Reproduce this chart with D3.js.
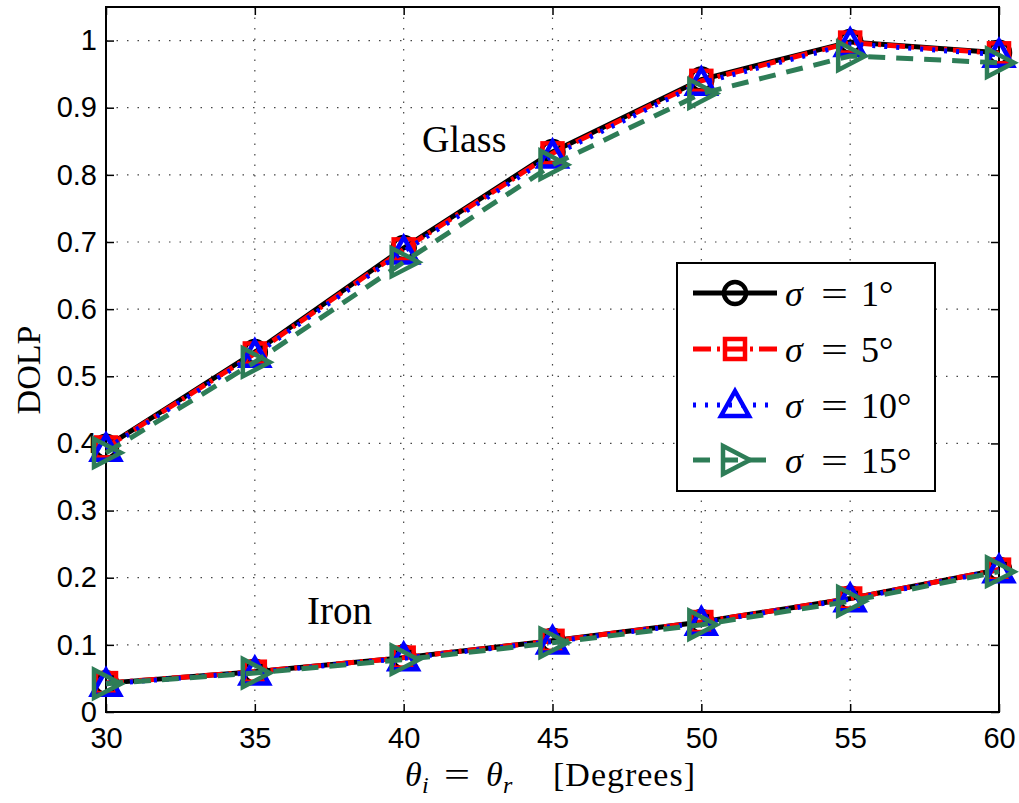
<!DOCTYPE html>
<html>
<head>
<meta charset="utf-8">
<script src="https://cdn.jsdelivr.net/npm/d3@7"></script>
<style>
  body { margin: 0; background: #fff; }
  svg { display: block; }
</style>
</head>
<body>
<div id="chart"></div>
<script>
// Data
const angles = [30, 35, 40, 45, 50, 55, 60];
const glassS1  = [0.395, 0.536, 0.691, 0.834, 0.942, 0.998, 0.982];
const glassS5  = [0.394, 0.534, 0.689, 0.832, 0.940, 0.997, 0.981];
const glassS10 = [0.392, 0.532, 0.686, 0.829, 0.937, 0.995, 0.979];
const glassS15 = [0.386, 0.521, 0.670, 0.815, 0.921, 0.977, 0.967];
const ironS1  = [0.043, 0.060, 0.081, 0.106, 0.134, 0.169, 0.212];
const ironS5  = [0.043, 0.060, 0.081, 0.106, 0.134, 0.169, 0.212];
const ironS10 = [0.042, 0.059, 0.080, 0.105, 0.133, 0.168, 0.211];
const ironS15 = [0.042, 0.058, 0.078, 0.103, 0.130, 0.165, 0.209];
const sigmaLabels = ["1", "5", "10", "15"];
const xTicks = [30, 35, 40, 45, 50, 55, 60];
const yTicks = [0, 0.1, 0.2, 0.3, 0.4, 0.5, 0.6, 0.7, 0.8, 0.9, 1];

const drawChart = () => {

  /*******************************/
  /*    Declare the constants    */
  /*******************************/
  const width = 1019;
  const height = 803;
  const margin = {top: 7, right: 20, bottom: 91, left: 106};
  const innerWidth = width - margin.left - margin.right;
  const innerHeight = height - margin.top - margin.bottom;
  const tickFont = "Liberation Sans, Arial, sans-serif";
  const serif = "Liberation Serif, Times New Roman, serif";

  const svg = d3.select("#chart")
    .append("svg")
      .attr("width", width)
      .attr("height", height);

  const inner = svg.append("g")
      .attr("transform", `translate(${margin.left}, ${margin.top})`);

  /****************************/
  /*    Declare the scales    */
  /****************************/
  const xScale = d3.scaleLinear()
    .domain([30, 60])
    .range([0, innerWidth]);
  const yScale = d3.scaleLinear()
    .domain([0, 1.05])
    .range([innerHeight, 0]);

  /**************************/
  /*      Grid and axes     */
  /**************************/
  const grid = inner.append("g")
      .attr("stroke", "#444")
      .attr("stroke-width", 1.2)
      .attr("stroke-dasharray", "1.5,9");
  grid.selectAll(".vgrid")
    .data(xTicks.slice(1, -1))
    .join("line")
      .attr("x1", d => xScale(d)).attr("x2", d => xScale(d))
      .attr("y1", 0).attr("y2", innerHeight);
  grid.selectAll(".hgrid")
    .data(yTicks.slice(1))
    .join("line")
      .attr("x1", 0).attr("x2", innerWidth)
      .attr("y1", d => yScale(d)).attr("y2", d => yScale(d));

  const bottomAxis = d3.axisBottom(xScale)
    .tickValues(xTicks)
    .tickSizeInner(-8)
    .tickSizeOuter(0)
    .tickPadding(15);
  const gx = inner.append("g")
      .attr("transform", `translate(0, ${innerHeight})`)
      .call(bottomAxis);

  const topAxis = d3.axisTop(xScale)
    .tickValues(xTicks)
    .tickSizeInner(-8)
    .tickSizeOuter(0)
    .tickFormat("");
  const gxt = inner.append("g").call(topAxis);

  const leftAxis = d3.axisLeft(yScale)
    .tickValues(yTicks)
    .tickSizeInner(-8)
    .tickSizeOuter(0)
    .tickPadding(9)
    .tickFormat(d => d === 0 ? "0" : d === 1 ? "1" : d3.format(".1f")(d));
  const gy = inner.append("g").call(leftAxis);

  const rightAxis = d3.axisRight(yScale)
    .tickValues(yTicks)
    .tickSizeInner(-8)
    .tickSizeOuter(0)
    .tickFormat("");
  const gyr = inner.append("g")
      .attr("transform", `translate(${innerWidth}, 0)`)
      .call(rightAxis);

  [gx, gxt, gy, gyr].forEach(g => {
    g.select(".domain").remove();
    g.selectAll(".tick line").attr("stroke", "#000").attr("stroke-width", 1.5);
    g.selectAll("text")
      .attr("font-family", tickFont)
      .attr("font-size", 29)
      .attr("fill", "#000");
  });

  inner.append("rect")
      .attr("x", 0).attr("y", 0)
      .attr("width", innerWidth).attr("height", innerHeight)
      .attr("fill", "none")
      .attr("stroke", "#000")
      .attr("stroke-width", 2);

  /**************************/
  /*      Axis labels       */
  /**************************/
  svg.append("text")
      .attr("transform", "translate(40, 370) rotate(-90)")
      .attr("text-anchor", "middle")
      .attr("font-family", serif)
      .attr("font-size", 34)
      .text("DOLP");

  // x label: theta_i = theta_r   [Degrees]
  const xlab = svg.append("g")
      .attr("font-family", serif)
      .attr("font-size", 34)
      .attr("fill", "#000");
  xlab.append("text").attr("x", 405).attr("y", 786).attr("font-style", "italic").text("θ");
  xlab.append("text").attr("x", 422).attr("y", 793).attr("font-style", "italic").attr("font-size", 24).text("i");
  xlab.append("text").attr("x", 444).attr("y", 786)
      .attr("textLength", 26).attr("lengthAdjust", "spacingAndGlyphs").text("=");
  xlab.append("text").attr("x", 486).attr("y", 786).attr("font-style", "italic").text("θ");
  xlab.append("text").attr("x", 503).attr("y", 793).attr("font-style", "italic").attr("font-size", 24).text("r");
  xlab.append("text").attr("x", 553).attr("y", 786).attr("textLength", 142).text("[Degrees]");

  inner.append("text")
      .attr("x", 422 - margin.left)
      .attr("y", 152 - margin.top)
      .attr("font-family", serif)
      .attr("font-size", 38)
      .text("Glass");
  inner.append("text")
      .attr("x", 307 - margin.left)
      .attr("y", 624 - margin.top)
      .attr("font-family", serif)
      .attr("font-size", 39)
      .text("Iron");

  /**************************/
  /*      Series            */
  /**************************/
  const series = [
    {label: sigmaLabels[0], glass: glassS1, iron: ironS1, color: "#000000", dash: null, marker: "circle"},
    {label: sigmaLabels[1], glass: glassS5, iron: ironS5, color: "#ff0000", dash: "18,6,3,6", marker: "square"},
    {label: sigmaLabels[2], glass: glassS10, iron: ironS10, color: "#0000ff", dash: "3,9", marker: "triangleUp"},
    {label: sigmaLabels[3], glass: glassS15, iron: ironS15, color: "#2e7d57", dash: "17,11", marker: "triangleRight"}
  ];

  const line = d3.line()
    .x(d => xScale(d[0]))
    .y(d => yScale(d[1]));

  const drawMarker = (g, type, cx, cy, color) => {
    const m = g.append("g").attr("transform", `translate(${cx}, ${cy})`)
      .attr("fill", "none").attr("stroke", color).attr("stroke-width", 4.5);
    if (type === "circle") {
      m.append("circle").attr("r", 11);
    } else if (type === "square") {
      m.append("rect").attr("x", -10).attr("y", -10).attr("width", 20).attr("height", 20);
    } else if (type === "triangleUp") {
      m.append("path").attr("d", "M0,-14 L14,11 L-14,11 Z");
    } else {
      m.append("path").attr("d", "M15,0 L-12,-14 L-12,14 Z");
    }
  };

  series.forEach(s => {
    ["glass", "iron"].forEach(k => {
      const pts = angles.map((a, i) => [a, s[k][i]]);
      inner.append("path")
          .datum(pts)
          .attr("d", line)
          .attr("fill", "none")
          .attr("stroke", s.color)
          .attr("stroke-width", 5)
          .attr("stroke-dasharray", s.dash);
      pts.forEach(p => drawMarker(inner, s.marker, xScale(p[0]), yScale(p[1]), s.color));
    });
  });

  /**************************/
  /*      Legend            */
  /**************************/
  const legend = svg.append("g");
  legend.append("rect")
      .attr("x", 677).attr("y", 263)
      .attr("width", 258).attr("height", 228)
      .attr("fill", "#fff")
      .attr("stroke", "#000")
      .attr("stroke-width", 2);

  const rowY = [293, 349, 405, 460];
  series.forEach((s, i) => {
    const y = rowY[i];
    legend.append("line")
        .attr("x1", 693).attr("x2", 777)
        .attr("y1", y).attr("y2", y)
        .attr("stroke", s.color)
        .attr("stroke-width", 5)
        .attr("stroke-dasharray", s.dash);
    drawMarker(legend, s.marker, 735, y, s.color);
    const t = legend.append("g")
        .attr("font-family", serif)
        .attr("font-size", 36);
    t.append("text").attr("x", 785).attr("y", y + 13).attr("font-style", "italic").text("σ");
    t.append("text").attr("x", 821).attr("y", y + 13)
        .attr("textLength", 27).attr("lengthAdjust", "spacingAndGlyphs").text("=");
    t.append("text").attr("x", 861).attr("y", y + 13).text(`${s.label}°`);
  });
};

drawChart();
</script>
</body>
</html>
